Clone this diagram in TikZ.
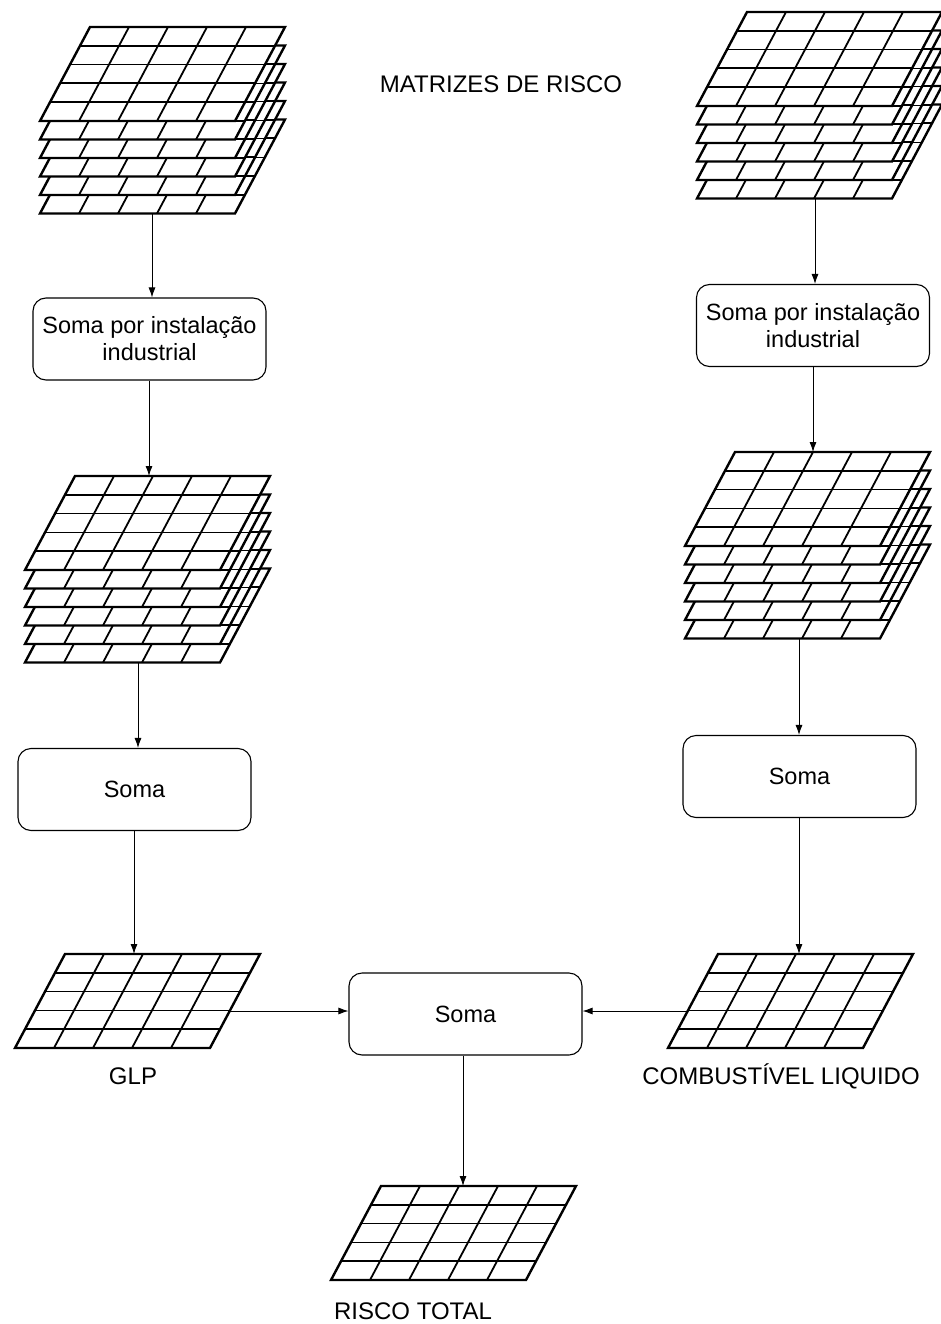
\documentclass[tikz,border=0pt]{standalone}
\usepackage{fontspec}
\setmainfont{Liberation Sans}
\usetikzlibrary{arrows.meta}

% one sheet of the risk matrix: parallelogram 5x5 grid, #1,#2 = lower-left corner
\newcommand\gridsheet[2]{%
  \begin{scope}[shift={(#1,#2)}]
    \fill[white] (0,0) -- (195,0) -- (245,-94) -- (50,-94) -- cycle;
    \draw[line width=1.8pt] (10,-18.8) -- (205,-18.8);
    \draw[line width=1.8pt] (20,-37.6) -- (215,-37.6);
    \draw[line width=1.1pt] (30,-56.4) -- (225,-56.4);
    \draw[line width=2.3pt] (40,-75.2) -- (235,-75.2);
    \foreach \j in {1,...,4}{\draw[line width=1.8pt] (39*\j,0) -- (39*\j+50,-94);}
    \draw[line width=2.4pt] (0,0) -- (195,0) -- (245,-94) -- (50,-94) -- cycle;
  \end{scope}}

% stack of six sheets, each 18.5 lower than the one above; #1,#2 = lower-left of top sheet
\newcommand\gridstack[2]{%
  \foreach \k in {5,4,...,0}{\gridsheet{#1}{#2+18.5*\k}}}

\tikzset{
  procbox/.style={draw, line width=1.1pt, rounded corners=13pt, minimum width=233pt,
    minimum height=82pt, align=center, font=\fontsize{23.5}{27}\selectfont, inner sep=0pt},
  lbl/.style={font=\fontsize{24}{28}\selectfont, inner sep=0pt},
  flow/.style={line width=0.9pt, -{Latex[length=10pt,width=7pt]}}
}

\begin{document}
\begin{tikzpicture}[x=1pt,y=-1pt]
\useasboundingbox (0,0) rectangle (941,1324);
\clip (0,0) rectangle (941,1324);

% stacks of matrices
\gridstack{40}{121}
\gridstack{697}{106}
\gridstack{25}{570}
\gridstack{685}{546}

% single matrices
\gridsheet{15}{1048}
\gridsheet{668}{1048}
\gridsheet{331}{1280}

% anchor points on the matrices
\coordinate (stackAbot) at (152,213.5);
\coordinate (stackBbot) at (815,198.5);
\coordinate (stackCtop) at (149,476);
\coordinate (stackCbot) at (138,662.5);
\coordinate (stackDtop) at (813,452);
\coordinate (stackDbot) at (799,638.5);
\coordinate (glpTop) at (134,954);
\coordinate (glpRight) at (230,1011);
\coordinate (clTop) at (799,954);
\coordinate (clLeft) at (688,1011);
\coordinate (totTop) at (463,1186);

% processing boxes
\node[procbox] (sumInstA) at (149.5,339) {Soma por instalação\\industrial};
\node[procbox] (sumInstB) at (813,325.5) {Soma por instalação\\industrial};
\node[procbox] (sumA) at (134.5,789.5) {Soma};
\node[procbox] (sumB) at (799.5,776.5) {Soma};
\node[procbox] (sumTot) at (465.5,1014) {Soma};

% labels
\node[lbl] (title) at (501,84) {MATRIZES DE RISCO};
\node[lbl] (glpLbl) at (133,1076) {GLP};
\node[lbl] (clLbl) at (781,1076) {COMBUSTÍVEL LIQUIDO};
\node[lbl] (totLbl) at (413,1311) {RISCO TOTAL};

% flow
\draw[flow] (stackAbot) -- (stackAbot |- sumInstA.north);
\draw[flow] (stackCtop |- sumInstA.south) -- (stackCtop);
\draw[flow] (stackCbot) -- (stackCbot |- sumA.north);
\draw[flow] (glpTop |- sumA.south) -- (glpTop);
\draw[flow] (stackBbot) -- (stackBbot |- sumInstB.north);
\draw[flow] (stackDtop |- sumInstB.south) -- (stackDtop);
\draw[flow] (stackDbot) -- (stackDbot |- sumB.north);
\draw[flow] (clTop |- sumB.south) -- (clTop);
\draw[flow] (glpRight) -- (glpRight -| sumTot.west);
\draw[flow] (clLeft) -- (clLeft -| sumTot.east);
\draw[flow] (totTop |- sumTot.south) -- (totTop);
\end{tikzpicture}
\end{document}
